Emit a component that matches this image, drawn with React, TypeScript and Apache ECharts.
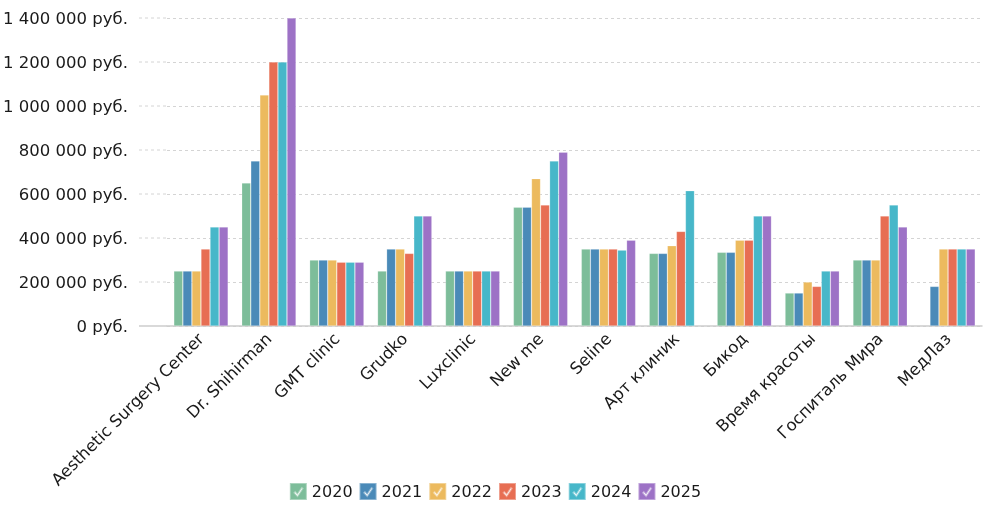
import React, { useEffect, useRef } from "react";
import * as echarts from "echarts";

const categories = [
  "Aesthetic Surgery Center",
  "Dr. Shihirman",
  "GMT clinic",
  "Grudko",
  "Luxclinic",
  "New me",
  "Seline",
  "Арт клиник",
  "Бикод",
  "Время красоты",
  "Госпиталь Мира",
  "МедЛаз",
];

const years = ["2020", "2021", "2022", "2023", "2024", "2025"];
const colors = ["#7dbd9a", "#4a8ab8", "#ecba5e", "#e76e53", "#47b7c9", "#9d72c6"];

const v2020 = [250000, 650000, 300000, 250000, 250000, 540000, 350000, 330000, 335000, 150000, 300000, null];
const v2021 = [250000, 750000, 300000, 350000, 250000, 540000, 350000, 330000, 335000, 150000, 300000, 180000];
const v2022 = [250000, 1050000, 300000, 350000, 250000, 670000, 350000, 365000, 390000, 200000, 300000, 350000];
const v2023 = [350000, 1200000, 290000, 330000, 250000, 550000, 350000, 430000, 390000, 180000, 500000, 350000];
const v2024 = [450000, 1200000, 290000, 500000, 250000, 750000, 345000, 615000, 500000, 250000, 550000, 350000];
const v2025 = [450000, 1400000, 290000, 500000, 250000, 790000, 390000, null, 500000, 250000, 450000, 350000];

const seriesValues = [v2020, v2021, v2022, v2023, v2024, v2025];

const yMax = 1400000;
const yInterval = 200000;

const checkIcon =
  "path://M0 0H20V20H0Z M5.6 11.6L9 15.2L14.8 6.6L14.1 6.1L9 13.9L6.3 10.9Z";

const fmt = (v: number) =>
  String(v).replace(/\B(?=(\d{3})+(?!\d))/g, " ") + " руб.";

const FONT = "DejaVu Sans";
const FS = 16.5;

export default function App() {
  const ref = useRef<HTMLDivElement>(null);

  useEffect(() => {
    if (!ref.current) return;
    const chart = echarts.init(ref.current, null, { renderer: "svg" });
    const gridLeft = 167;
    const extLeft = 139;
    chart.setOption({
      animation: false,
      color: colors,
      textStyle: { fontFamily: FONT },
      grid: { left: gridLeft, right: 8, top: 18, bottom: 184 },
      legend: {
        bottom: 4,
        left: "center",
        itemWidth: 17,
        itemHeight: 17,
        itemGap: 6,
        icon: checkIcon,
        textStyle: { fontFamily: FONT, fontSize: 16, color: "#1a1a1a" },
        data: years,
      },
      xAxis: {
        type: "category",
        data: categories,
        axisLine: { lineStyle: { color: "#cccccc", width: 1.5 } },
        axisTick: { show: false },
        axisLabel: {
          rotate: 45,
          interval: 0,
          margin: 10,
          fontFamily: FONT,
          fontSize: FS,
          color: "#1a1a1a",
        },
      },
      yAxis: {
        type: "value",
        min: 0,
        max: yMax,
        interval: yInterval,
        axisLine: { show: false },
        axisTick: { show: false },
        axisLabel: {
          margin: 39,
          fontFamily: FONT,
          fontSize: FS,
          color: "#1a1a1a",
          formatter: (v: number) => fmt(v),
        },
        splitLine: {
          lineStyle: { color: "#d4d4d4", type: [3, 3], width: 1 },
        },
      },
      series: years.map((y, i) => ({
        name: y,
        type: "bar",
        data: seriesValues[i],
        barGap: "0%",
        barCategoryGap: "20%",
        itemStyle: {
          borderColor: "rgba(255,255,255,0.35)",
          borderWidth: 0.6,
        },
      })),
    });

    // extend grid lines and axis line to the left like the reference
    const graphics: any[] = [];
    for (let v = 0; v <= yMax; v += yInterval) {
      const py = chart.convertToPixel({ yAxisIndex: 0 }, v) as number;
      if (v === 0) {
        graphics.push({
          type: "line",
          shape: { x1: extLeft, y1: py, x2: gridLeft, y2: py },
          style: { stroke: "#cccccc", lineWidth: 1.5 },
          silent: true,
        });
      } else {
        graphics.push({
          type: "line",
          shape: { x1: extLeft, y1: py, x2: gridLeft, y2: py },
          style: { stroke: "#d4d4d4", lineWidth: 1, lineDash: [3, 3] },
          silent: true,
        });
      }
    }
    chart.setOption({ graphic: graphics });

    return () => chart.dispose();
  }, []);

  return (
    <div
      ref={ref}
      style={{ position: "fixed", left: 0, top: 0, width: 990, height: 510 }}
    />
  );
}
